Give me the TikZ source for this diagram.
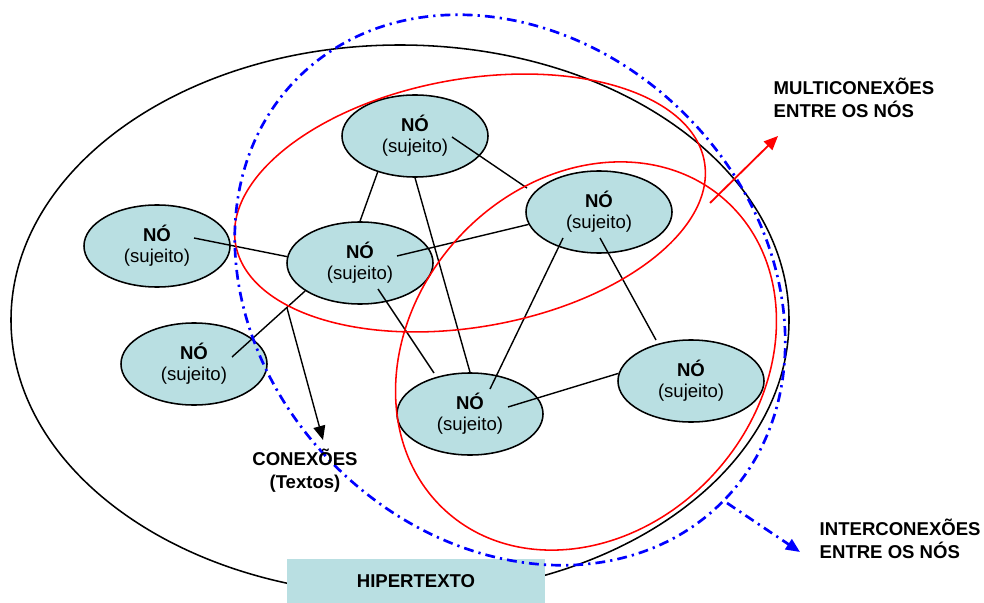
\documentclass[tikz,border=0pt]{standalone}
\usepackage{fontspec}
\setmainfont{Liberation Sans}
\usetikzlibrary{shapes.geometric,arrows.meta}
\definecolor{agua}{RGB}{185,223,226}

\begin{document}
\begin{tikzpicture}[x=0.025cm,y=-0.025cm,
            line width=1pt,
            nodo/.style={draw,ellipse,fill=agua,line width=1.1pt,
                minimum width=3.65cm,minimum height=2.05cm,inner sep=0pt,
                align=center,font=\fontsize{13.2}{15}\selectfont},
            rotulo/.style={inner sep=0pt,align=left,
                font=\fontsize{13.2}{16.4}\selectfont\bfseries},
            caixa/.style={fill=agua,minimum width=6.45cm,minimum height=1.1cm,
                inner sep=0pt,font=\fontsize{13.2}{16}\selectfont\bfseries},
            ponta/.style={-{Triangle[length=10pt,width=8.5pt]}},
            tracoponto/.style={blue,line width=1.9pt,
                dash pattern=on 7pt off 3.6pt on 1.6pt off 3.6pt},
            ]
            \useasboundingbox (0,0) rectangle (984,603);

            % hipertexto
            \draw[line width=1.1pt] (400,320) ellipse [x radius=389, y radius=275];
            \node[caixa] (hiper) at (416,581) {HIPERTEXTO};

            \node[nodo] (n1) at (415,136) {\textbf{NÓ}\\(sujeito)};
            \node[nodo] (n2) at (599,212) {\textbf{NÓ}\\(sujeito)};
            \node[nodo] (n3) at (360,263) {\textbf{NÓ}\\(sujeito)};
            \node[nodo] (n4) at (157,246) {\textbf{NÓ}\\(sujeito)};
            \node[nodo] (n5) at (194,364) {\textbf{NÓ}\\(sujeito)};
            \node[nodo] (n6) at (470,414) {\textbf{NÓ}\\(sujeito)};
            \node[nodo] (n7) at (691,381) {\textbf{NÓ}\\(sujeito)};

            % conexoes
            \draw ([shift={(37,-8)}]n4.center) -- (n3.175);
            \draw (n1.-136) -- (n3.north);
            \draw (n1.south) -- (n6.north);
            \draw ([shift={(37,1)}]n1.center) -- ([shift={(-72,-24)}]n2.center);
            \draw ([shift={(37,-7)}]n3.center) -- (n2.190);
            \draw ([shift={(-36,26)}]n2.center) -- ([shift={(20,-25)}]n6.center);
            \draw ([shift={(1,26)}]n2.center) -- ([shift={(-35,-41)}]n7.center);
            \draw ([shift={(38,-7)}]n6.center) -- (n7.174);
            \draw ([shift={(18,26)}]n3.center) -- ([shift={(-36,-41)}]n6.center);
            \draw (n3.207) -- coordinate[pos=0.25] (ramo) ([shift={(38,-7)}]n5.center);

            \draw[red,line width=1.1pt,rotate around={10:(470,203)}]
                (470,203) ellipse [x radius=238, y radius=124];
            \draw[red,line width=1.1pt,rotate around={48:(586,356)}]
                (586,356) ellipse [x radius=209, y radius=174];
            \draw[tracoponto,rotate around={-45:(510,290)}]
                (510,290) ellipse [x radius=300, y radius=248];

            \node[rotulo,anchor=north west] (multi) at (773,77) {MULTICONEXÕES\\ENTRE OS NÓS};
            \node[rotulo,anchor=north west] (inter) at (819,518) {INTERCONEXÕES\\ENTRE OS NÓS};
            \node[rotulo,align=center] (conex) at (305,471) {CONEXÕES\\(Textos)};

            \coordinate (pontaC) at (323,440);
            \coordinate (multiIni) at (710,203);
            \coordinate (multiFim) at (778,136);
            \coordinate (interIni) at (727,503);
            \coordinate (interFim) at (800,552);

            \draw[ponta] (ramo) -- (pontaC);
            \draw[ponta,red,line width=1.3pt] (multiIni) -- (multiFim);
            \draw[ponta,tracoponto] (interIni) -- (interFim);
\end{tikzpicture}
\end{document}
